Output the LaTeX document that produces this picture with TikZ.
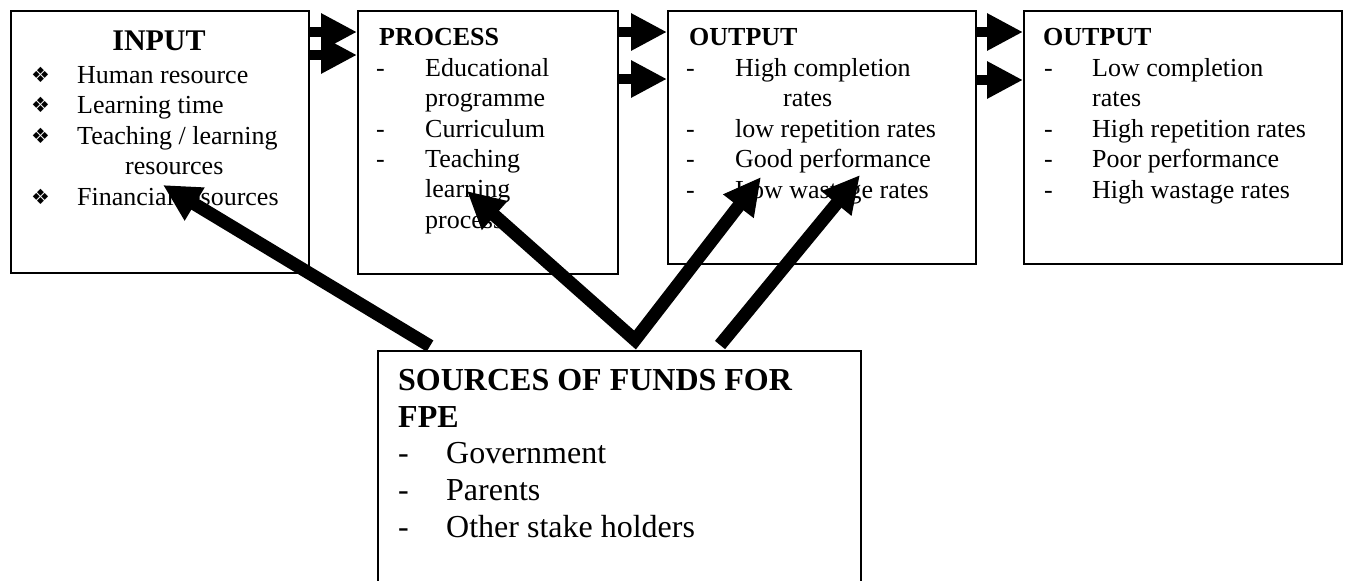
\documentclass[tikz,border=0pt]{standalone}
\usepackage{fontspec}
\setmainfont{Liberation Serif}
\newfontfamily\dingfont{DejaVu Sans}
\usetikzlibrary{arrows.meta}

\begin{document}
\begin{tikzpicture}[x=1pt,y=-1pt,
  box/.style={draw,line width=1.5pt,inner sep=0pt,anchor=north west},
  txt/.style={inner sep=0pt,anchor=base west,font=\fontsize{26}{30}\selectfont},
  ttl/.style={inner sep=0pt,anchor=base west,font=\fontsize{26}{30}\selectfont\bfseries},
  bul/.style={inner sep=0pt,anchor=base west,font=\dingfont\fontsize{21}{24}\selectfont},
  big/.style={inner sep=0pt,anchor=base west,font=\fontsize{32}{37}\selectfont},
  bigttl/.style={inner sep=0pt,anchor=base west,font=\fontsize{32}{37}\selectfont\bfseries},
  flow/.style={line width=10.5pt,-{Triangle[length=36pt,width=35pt]}},
  fund/.style={line width=13pt,line join=miter,-{Triangle[length=37pt,width=36pt]}},
]
\useasboundingbox (0,0) rectangle (1347,581);
\clip (0,0) rectangle (1347,581);
\fill[white] (0,0) rectangle (1347,581);

% the five boxes
\node[box,minimum width=298pt,minimum height=262pt] (inp)  at (10,10)   {};
\node[box,minimum width=260pt,minimum height=263pt] (proc) at (357,10)  {};
\node[box,minimum width=308pt,minimum height=253pt] (outg) at (667,10)  {};
\node[box,minimum width=318pt,minimum height=253pt] (outp) at (1023,10) {};
\node[box,minimum width=483pt,minimum height=260pt] (src)  at (377,350) {};

% INPUT
\node[inner sep=0pt,anchor=base,font=\fontsize{30}{34}\selectfont\bfseries] (inpT) at (159,50) {INPUT};
\node[bul] (inpB1) at (31,82)    {❖};
\node[bul] (inpB2) at (31,112.5) {❖};
\node[bul] (inpB3) at (31,143)   {❖};
\node[bul] (inpB4) at (31,204)   {❖};
\node[txt] (inp1) at (77,83)    {Human resource};
\node[txt] (inp2) at (77,113.5) {Learning time};
\node[txt] (inp3) at (77,144)   {Teaching / learning};
\node[txt] (inp4) at (125,174.5){resources};
\node[txt] (inp5) at (77,205)   {Financial resources};

% PROCESS
\node[ttl] (procT) at (379,45) {PROCESS};
\node[txt] (procD1) at (376,76)  {-};
\node[txt] (procD2) at (376,137) {-};
\node[txt] (procD3) at (376,167) {-};
\node[txt] (proc1) at (425,76)    {Educational};
\node[txt] (proc2) at (425,106.5) {programme};
\node[txt] (proc3) at (425,137)   {Curriculum};
\node[txt] (proc4) at (425,167)   {Teaching};
\node[txt] (proc5) at (425,197.5) {learning};
\node[txt] (proc6) at (425,228)   {process};

% OUTPUT (good)
\node[ttl] (outgT) at (689,45) {OUTPUT};
\node[txt] (outgD1) at (686,76)  {-};
\node[txt] (outgD2) at (686,137) {-};
\node[txt] (outgD3) at (686,167) {-};
\node[txt] (outgD4) at (686,198) {-};
\node[txt] (outg1) at (735,76)  {High completion};
\node[txt] (outg2) at (783,106.5) {rates};
\node[txt] (outg3) at (735,137) {low repetition rates};
\node[txt] (outg4) at (735,167) {Good performance};
\node[txt] (outg5) at (735,198) {Low wastage rates};

% OUTPUT (poor)
\node[ttl] (outpT) at (1043,45) {OUTPUT};
\node[txt] (outpD1) at (1044,76)  {-};
\node[txt] (outpD2) at (1044,137) {-};
\node[txt] (outpD3) at (1044,167) {-};
\node[txt] (outpD4) at (1044,198) {-};
\node[txt] (outp1) at (1092,76)  {Low completion};
\node[txt] (outp2) at (1092,106.5) {rates};
\node[txt] (outp3) at (1092,137) {High repetition rates};
\node[txt] (outp4) at (1092,167) {Poor performance};
\node[txt] (outp5) at (1092,198) {High wastage rates};

% SOURCES OF FUNDS
\node[bigttl] (srcT1) at (398,390) {SOURCES OF FUNDS FOR};
\node[bigttl] (srcT2) at (398,427) {FPE};
\node[big] (srcD1) at (398,463) {-};
\node[big] (srcD2) at (398,500) {-};
\node[big] (srcD3) at (398,537) {-};
\node[big] (src1) at (446,463) {Government};
\node[big] (src2) at (446,500) {Parents};
\node[big] (src3) at (446,537) {Other stake holders};

% flow arrows between the top boxes
\draw[flow] ([yshift=-22pt]inp.north east)  -- ([yshift=-22pt]proc.north west);
\draw[flow] ([yshift=-45pt]inp.north east)  -- ([yshift=-45pt]proc.north west);
\draw[flow] ([yshift=-22pt]proc.north east) -- ([yshift=-22pt]outg.north west);
\draw[flow] ([yshift=-69pt]proc.north east) -- ([yshift=-69pt]outg.north west);
\draw[flow] ([yshift=-22pt]outg.north east) -- ([yshift=-22pt]outp.north west);
\draw[flow] ([yshift=-70pt]outg.north east) -- ([yshift=-70pt]outp.north west);

% funding arrows
\coordinate (fin)  at (163,185);
\coordinate (tlp)  at (467,191);
\coordinate (good) at (761,177);
\coordinate (waste) at (860,175);
\coordinate (s1)  at ([xshift=53pt,yshift=4pt]src.north west);
\coordinate (vee) at ([xshift=258pt,yshift=10pt]src.north west);
\coordinate (s4)  at ([xshift=343pt,yshift=5pt]src.north west);
\draw[fund] (s1) -- (fin);
\draw[fund,{Triangle[length=37pt,width=36pt]}-{Triangle[length=37pt,width=36pt]}] (tlp) -- (vee) -- (good);
\draw[fund] (s4) -- (waste);
\end{tikzpicture}
\end{document}
